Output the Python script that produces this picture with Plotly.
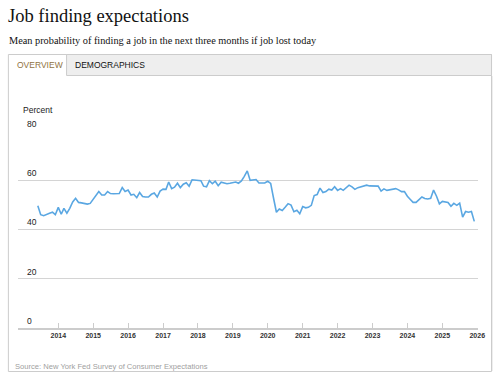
import pandas as pd
import plotly.graph_objects as go

# ---------------- data ----------------
start_month = "2013-06-01"
values_2013 = [49.6, 46.0, 45.6, 46.2, 46.6, 47.0, 46.0]
values_2014 = [49.0, 46.2, 48.6, 46.6, 48.6, 51.2, 52.7, 51.0, 50.8, 50.6, 50.3, 50.6]
values_2015 = [52.2, 53.8, 55.4, 54.0, 54.0, 55.4, 54.6, 54.5, 54.5, 54.6, 57.0, 55.4]
values_2016 = [56.0, 54.0, 54.3, 52.9, 55.0, 53.4, 53.2, 53.2, 54.3, 54.8, 53.2, 55.6]
values_2017 = [56.4, 56.3, 59.3, 56.6, 57.2, 58.8, 57.0, 58.4, 59.0, 57.6, 60.2, 60.0]
values_2018 = [59.9, 59.8, 57.6, 57.3, 59.8, 58.6, 59.6, 57.8, 59.2, 58.8, 58.6, 58.8]
values_2019 = [59.0, 59.3, 58.8, 59.7, 61.6, 63.8, 60.0, 60.2, 60.3, 58.9, 59.0, 58.9]
values_2020 = [59.6, 58.7, 52.9, 47.0, 48.3, 47.7, 49.0, 50.5, 49.9, 47.2, 47.8, 46.4]
values_2021 = [49.3, 48.8, 49.0, 49.8, 53.8, 54.2, 56.8, 55.0, 55.4, 56.4, 56.0, 57.4]
values_2022 = [55.9, 56.6, 55.9, 57.0, 58.0, 57.3, 56.3, 57.0, 57.4, 57.7, 58.0, 57.7]
values_2023 = [57.6, 57.8, 57.6, 55.6, 56.5, 55.9, 56.1, 56.2, 56.6, 56.1, 55.4, 55.4]
values_2024 = [53.5, 52.2, 51.0, 51.0, 52.2, 53.2, 52.6, 52.4, 52.7, 56.0, 53.5, 50.4]
values_2025 = [51.4, 51.2, 51.0, 49.4, 50.6, 49.8, 50.7, 45.0, 47.3, 47.0, 47.3, 43.3]

values = (values_2013 + values_2014 + values_2015 + values_2016 + values_2017 +
          values_2018 + values_2019 + values_2020 + values_2021 + values_2022 +
          values_2023 + values_2024 + values_2025)
dates = pd.date_range(start_month, periods=len(values), freq="MS")

x_tick_years = [2014, 2015, 2016, 2017, 2018, 2019, 2020, 2021, 2022, 2023, 2024, 2025, 2026]
y_ticks = [0, 20, 40, 60, 80]

title = "Job finding expectations"
subtitle = "Mean probability of finding a job in the next three months if job lost today"
tabs = ["OVERVIEW", "DEMOGRAPHICS"]
y_title = "Percent"
source = "Source: New York Fed Survey of Consumer Expectations"

# ---------------- layout helpers ----------------
W, H = 500, 376
def PX(px):
    return px / W
def PY(py):
    return 1 - py / H

plot_left, plot_right, plot_top, plot_bottom = 18, 485, 131, 328

fig = go.Figure()
fig.add_trace(go.Scatter(
    x=dates, y=values, mode="lines",
    line=dict(color="#5aa7e2", width=1.6),
    hoverinfo="x+y", showlegend=False,
))

grid_col = "#d4d4d4"
sans = "Arial, Liberation Sans, sans-serif"
serif = "Georgia, Liberation Serif, serif"

shapes = [
    dict(type="rect", xref="paper", yref="paper",
         x0=PX(8.5), x1=PX(498.5), y0=PY(54.5), y1=PY(371.5),
         line=dict(color="#cccccc", width=1), fillcolor="rgba(0,0,0,0)", layer="below"),
    dict(type="rect", xref="paper", yref="paper",
         x0=PX(67.5), x1=PX(498.5), y0=PY(54.5), y1=PY(75.5),
         line=dict(color="#cccccc", width=1), fillcolor="#eeeeee", layer="below"),
    dict(type="rect", xref="paper", yref="paper",
         x0=PX(499), x1=PX(500), y0=PY(76), y1=PY(371),
         line=dict(width=0), fillcolor="#eeeeee", layer="below"),
]

annotations = [
    dict(text=title, xref="paper", yref="paper", x=PX(6), y=PY(16),
         xanchor="left", yanchor="middle", showarrow=False,
         font=dict(family=serif, size=18.5, color="#111111")),
    dict(text=subtitle, xref="paper", yref="paper", x=PX(7), y=PY(40),
         xanchor="left", yanchor="middle", showarrow=False,
         font=dict(family=serif, size=10.3, color="#111111")),
    dict(text=tabs[0], xref="paper", yref="paper", x=PX(15), y=PY(64.5),
         xanchor="left", yanchor="middle", showarrow=False,
         font=dict(family=sans, size=8.5, color="#8f7343")),
    dict(text=tabs[1], xref="paper", yref="paper", x=PX(74), y=PY(64.5),
         xanchor="left", yanchor="middle", showarrow=False,
         font=dict(family=sans, size=8.5, color="#111111")),
    dict(text=y_title, xref="paper", yref="paper", x=PX(21), y=PY(110),
         xanchor="left", yanchor="middle", showarrow=False,
         font=dict(family=sans, size=8.5, color="#222222")),
    dict(text=source, xref="paper", yref="paper", x=PX(13), y=PY(366.5),
         xanchor="left", yanchor="middle", showarrow=False,
         font=dict(family=sans, size=7.6, color="#a0a0a0")),
]
for v in y_ticks:
    annotations.append(dict(
        text=str(v), xref="paper", yref="y", x=PX(25), y=v,
        xanchor="left", yanchor="bottom", yshift=0, showarrow=False,
        font=dict(family=sans, size=8.5, color="#222222")))

fig.update_layout(
    width=W, height=H,
    margin=dict(l=0, r=0, t=0, b=0),
    paper_bgcolor="white", plot_bgcolor="white",
    shapes=shapes, annotations=annotations,
    xaxis=dict(
        domain=[PX(plot_left), PX(plot_right)],
        type="date",
        range=["2012-11-03", "2026-01-11"],
        tickvals=[f"{y}-01-01" for y in x_tick_years],
        ticktext=[str(y) for y in x_tick_years],
        ticks="inside", ticklen=5, tickcolor="#cccccc", tickwidth=1,
        showgrid=False, showline=True, linecolor="#cccccc", linewidth=1.5,
        tickfont=dict(family=sans, size=7, color="#333333", weight="bold"),
        zeroline=False, fixedrange=True,
    ),
    yaxis=dict(
        domain=[1 - plot_bottom / H, 1 - plot_top / H],
        range=[0, 80],
        tickvals=y_ticks, showticklabels=False,
        showgrid=True, gridcolor=grid_col, gridwidth=1,
        zeroline=False, showline=False, fixedrange=True,
    ),
)

fig.write_html("out.html")
